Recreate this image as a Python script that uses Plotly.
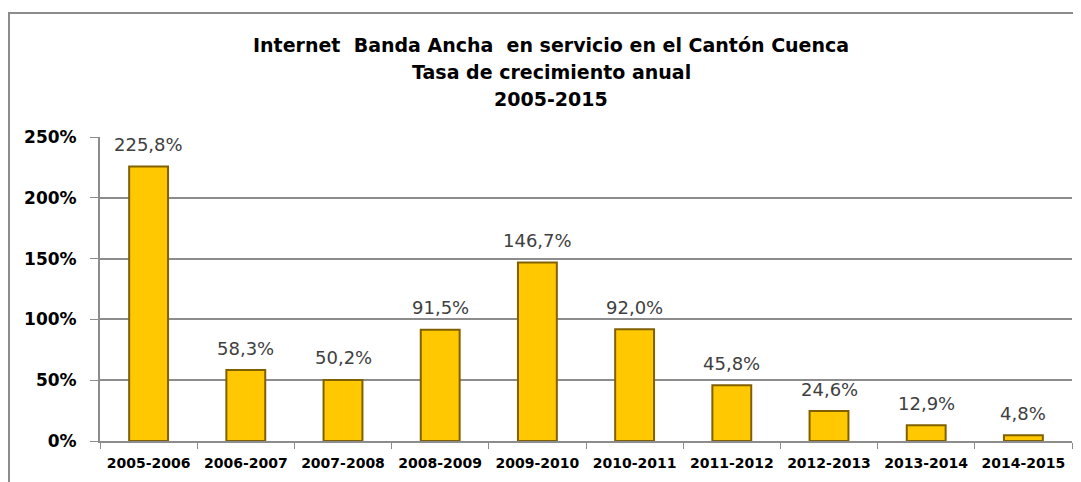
import plotly.graph_objects as go

categories = ["2005-2006", "2006-2007", "2007-2008", "2008-2009", "2009-2010",
              "2010-2011", "2011-2012", "2012-2013", "2013-2014", "2014-2015"]
values = [225.8, 58.3, 50.2, 91.5, 146.7, 92.0, 45.8, 24.6, 12.9, 4.8]
title_lines = ["Internet  Banda Ancha  en servicio en el Cantón Cuenca",
               "Tasa de crecimiento anual",
               "2005-2015"]

labels = [f"{v:.1f}".replace(".", ",") + "%" for v in values]

OFF = 8  # browser body margin
W, H = 1081 - OFF, 482 - OFF
L, R, T, B = 100 - OFF, 9, 137 - OFF, 41
pw, ph = W - L - R, H - T - B

def px_x(p):
    return (p - OFF - L) / pw

def px_y(p):
    return (H - B - (p - OFF)) / ph

fig = go.Figure()
fig.add_trace(go.Bar(
    x=categories, y=values,
    marker=dict(color="#FFC800", line=dict(color="#806000", width=2)),
    width=0.4,
))

for c, v, t in zip(categories, values, labels):
    fig.add_annotation(
        x=c, y=v, text=t, showarrow=False, xanchor="center", yanchor="middle",
        yshift=22,
        font=dict(family="DejaVu Sans, sans-serif", size=18, color="#404040"),
    )

fig.update_layout(
    width=W, height=H,
    margin=dict(l=L, r=R, t=T, b=B),
    paper_bgcolor="white", plot_bgcolor="white",
    showlegend=False,
    xaxis=dict(
        showline=True, linecolor="#8c8c8c", linewidth=2,
        ticks="outside", tickson="boundaries", ticklen=6, tickcolor="#8c8c8c",
        ticklabelstandoff=8,
        tickfont=dict(family="DejaVu Sans, sans-serif", size=14, color="#000000", weight="bold"),
        showgrid=False,
    ),
    yaxis=dict(
        range=[0, 250], dtick=50, ticksuffix="%",
        showgrid=True, gridcolor="#8c8c8c", gridwidth=2,
        showline=True, linecolor="#8c8c8c", linewidth=2,
        ticks="outside", ticklen=8, tickcolor="#8c8c8c",
        ticklabelstandoff=10,
        tickfont=dict(family="DejaVu Sans, sans-serif", size=17, color="#000000", weight="bold"),
        zeroline=False,
    ),
)

for line, yp in zip(title_lines, [45, 72, 99]):
    fig.add_annotation(
        text=line, xref="paper", yref="paper", x=px_x(551), y=px_y(yp),
        xanchor="center", yanchor="middle", showarrow=False,
        font=dict(family="DejaVu Sans, sans-serif", size=19, color="#000000", weight="bold"),
    )

fig.add_shape(type="rect", xref="paper", yref="paper",
              x0=px_x(9), x1=px_x(1095), y0=px_y(500), y1=px_y(13),
              line=dict(color="#8c8c8c", width=2), fillcolor="rgba(0,0,0,0)", layer="below")

fig.write_html("out.html")
